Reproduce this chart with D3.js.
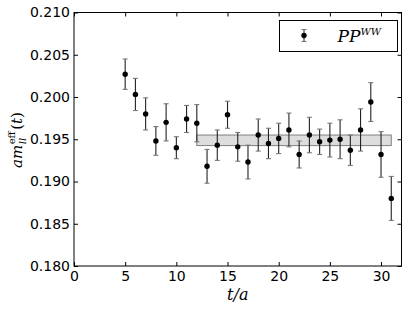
<!DOCTYPE html>
<html>
<head>
<meta charset="utf-8">
<script src="https://cdn.jsdelivr.net/npm/d3@7"></script>
<style>
  body { margin: 0; background: #fff; }
  svg { display: block; }
</style>
</head>
<body>
<div id="chart"></div>
<script>
// data
var tValues = [5, 6, 7, 8, 9, 10, 11, 12, 13, 14, 15, 16, 17, 18, 19, 20, 21, 22, 23, 24, 25, 26, 27, 28, 29, 30, 31];
var meff = [0.2027, 0.2003, 0.1980, 0.1948, 0.1970, 0.1940, 0.1974, 0.1969, 0.1918, 0.1943, 0.1979, 0.1941, 0.1923, 0.1955,
            0.1945, 0.1951, 0.1961, 0.1932, 0.1955, 0.1947, 0.1949, 0.1950, 0.1937, 0.1961, 0.1994, 0.1932, 0.1880];
var meffErr = [0.0018, 0.0019, 0.0019, 0.0017, 0.0022, 0.0013, 0.0016, 0.0022, 0.0020, 0.0018, 0.0016, 0.0017, 0.0020, 0.0019,
               0.0018, 0.0018, 0.0020, 0.0016, 0.0021, 0.0015, 0.0020, 0.0023, 0.0018, 0.0025, 0.0023, 0.0027, 0.0026];
var fitRange = [12, 31];
var fitBand = [0.19425, 0.19550];
var xTicks = [0, 5, 10, 15, 20, 25, 30];
var yTicks = [0.180, 0.185, 0.190, 0.195, 0.200, 0.205, 0.210];

var W = 407, H = 310;
var margin = {top: 12.5, right: 5.5, bottom: 44, left: 74},
    width = W - margin.left - margin.right,
    height = H - margin.top - margin.bottom;

var svg = d3.select("#chart").append("svg")
    .attr("width", W).attr("height", H);
var g = svg.append("g")
    .attr("transform", "translate(" + margin.left + "," + margin.top + ")");

var x = d3.scaleLinear().domain([0, 32]).range([0, width]);
var y = d3.scaleLinear().domain([0.180, 0.210]).range([height, 0]);

var data = tValues.map(function(t, i) { return {t: t, v: meff[i], e: meffErr[i]}; });

// fit band
g.append("rect")
    .attr("x", x(fitRange[0])).attr("width", x(fitRange[1]) - x(fitRange[0]))
    .attr("y", y(fitBand[1])).attr("height", y(fitBand[0]) - y(fitBand[1]))
    .attr("fill", "#dddddd").attr("stroke", "#808080").attr("stroke-width", 1);

// error bars
var bars = g.selectAll(".err").data(data).enter().append("g").attr("class", "err")
    .attr("stroke", "#222").attr("stroke-width", 1.1);
bars.append("line")
    .attr("x1", function(d) { return x(d.t); }).attr("x2", function(d) { return x(d.t); })
    .attr("y1", function(d) { return y(d.v + d.e); }).attr("y2", function(d) { return y(d.v - d.e); });
bars.append("line")
    .attr("x1", function(d) { return x(d.t) - 2.5; }).attr("x2", function(d) { return x(d.t) + 2.5; })
    .attr("y1", function(d) { return y(d.v + d.e); }).attr("y2", function(d) { return y(d.v + d.e); })
    .attr("stroke", "#777");
bars.append("line")
    .attr("x1", function(d) { return x(d.t) - 2.5; }).attr("x2", function(d) { return x(d.t) + 2.5; })
    .attr("y1", function(d) { return y(d.v - d.e); }).attr("y2", function(d) { return y(d.v - d.e); })
    .attr("stroke", "#777");

g.selectAll(".pt").data(data).enter().append("circle").attr("class", "pt")
    .attr("cx", function(d) { return x(d.t); })
    .attr("cy", function(d) { return y(d.v); })
    .attr("r", 2.7).attr("fill", "#000");

// axes: ticks inward on all four sides
var fmt = d3.format(".3f");
var axB = g.append("g").attr("transform", "translate(0," + height + ")")
    .call(d3.axisBottom(x).tickValues(xTicks).tickSizeInner(-4).tickSizeOuter(0).tickPadding(5));
var axT = g.append("g")
    .call(d3.axisTop(x).tickValues(xTicks).tickSizeInner(-4).tickSizeOuter(0).tickFormat(""));
var axL = g.append("g")
    .call(d3.axisLeft(y).tickValues(yTicks).tickSizeInner(-4).tickSizeOuter(0).tickPadding(4).tickFormat(fmt));
var axR = g.append("g").attr("transform", "translate(" + width + ",0)")
    .call(d3.axisRight(y).tickValues(yTicks).tickSizeInner(-4).tickSizeOuter(0).tickFormat(""));

[axB, axT, axL, axR].forEach(function(a) {
  a.select(".domain").remove();
  a.selectAll("line").attr("stroke", "#000");
  a.selectAll("text").attr("font-family", "DejaVu Sans").attr("font-size", 14).attr("fill", "#000");
});

g.append("rect").attr("width", width).attr("height", height)
    .attr("fill", "none").attr("stroke", "#000").attr("stroke-width", 1);

// x label
svg.append("text")
    .attr("x", margin.left + width / 2).attr("y", 300)
    .attr("text-anchor", "middle")
    .attr("font-family", "DejaVu Serif").attr("font-style", "italic").attr("font-size", 16)
    .text("t/a");

// y label: a m_ll^eff (t)
var yl = svg.append("g").attr("transform", "translate(22,140) rotate(-90)");
var inner = yl.append("g");
var serif = "DejaVu Serif";
var t1 = inner.append("text").attr("x", 0).attr("y", 0)
    .attr("font-family", serif).attr("font-style", "italic").attr("font-size", 15).text("am");
var w1 = t1.node().getComputedTextLength();
var t2 = inner.append("text").attr("x", w1 + 0.5).attr("y", -7)
    .attr("font-family", serif).attr("font-size", 10).text("eff");
var t3 = inner.append("text").attr("x", w1 + 0.5).attr("y", 4)
    .attr("font-family", serif).attr("font-style", "italic").attr("font-size", 10).text("ll");
var w23 = Math.max(t2.node().getComputedTextLength(), t3.node().getComputedTextLength());
var t4 = inner.append("text").attr("x", w1 + w23 + 2).attr("y", 0)
    .attr("font-family", serif).attr("font-size", 15);
t4.append("tspan").text("(");
t4.append("tspan").attr("font-style", "italic").text("t");
t4.append("tspan").text(")");
var total = w1 + w23 + 2 + t4.node().getComputedTextLength();
inner.attr("transform", "translate(" + (-total / 2) + ",0)");

// legend
var lg = svg.append("g").attr("transform", "translate(279.5,20.5)");
lg.append("rect").attr("width", 118).attr("height", 31)
    .attr("fill", "#fff").attr("stroke", "#000").attr("stroke-width", 1);
lg.append("line").attr("x1", 24.5).attr("x2", 24.5).attr("y1", 9).attr("y2", 21).attr("stroke", "#222");
lg.append("line").attr("x1", 22).attr("x2", 27).attr("y1", 9).attr("y2", 9).attr("stroke", "#777");
lg.append("line").attr("x1", 22).attr("x2", 27).attr("y1", 21).attr("y2", 21).attr("stroke", "#777");
lg.append("circle").attr("cx", 24.5).attr("cy", 15).attr("r", 2.7).attr("fill", "#000");
var lt = lg.append("text").attr("x", 58).attr("y", 21)
    .attr("font-family", serif).attr("font-style", "italic").attr("font-size", 17);
lt.append("tspan").text("PP");
lt.append("tspan").attr("font-size", 10).attr("dy", -7).text("WW");
</script>
</body>
</html>
